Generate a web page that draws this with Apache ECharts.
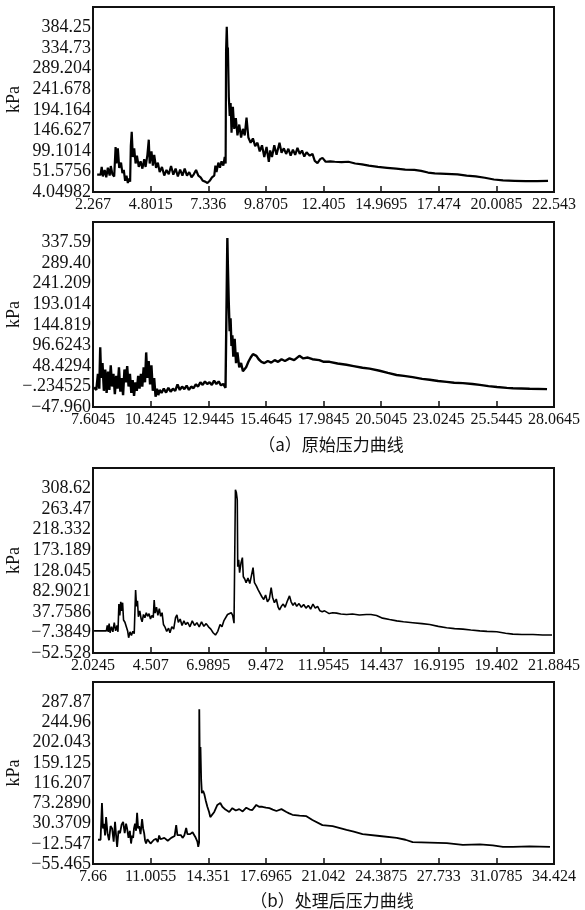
<!DOCTYPE html>
<html>
<head>
<meta charset="utf-8">
<script src="https://cdn.jsdelivr.net/npm/echarts@6/dist/echarts.min.js"></script>
<style>
  html, body { margin: 0; padding: 0; background: #fff; }
  #chart { width: 585px; height: 910px; }
</style>
</head>
<body>
<div id="chart"></div>
<script>
// (a) original pressure curves, (b) processed pressure curves  [time, kPa]
const rawCurve1 = [
  [2.45,44],[2.6,44],[2.65,62],[2.7,40],[2.78,55],[2.85,38],[2.92,60],[3.0,42],[3.05,64],[3.12,45],
  [3.2,40],[3.26,108],[3.3,70],[3.36,105],[3.42,60],[3.5,72],[3.56,48],[3.62,55],[3.68,30],[3.74,42],
  [3.8,25],[3.86,35],[3.9,28],[3.93,110],[3.97,143],[4.02,85],[4.08,105],[4.14,70],[4.2,88],[4.28,62],
  [4.36,75],[4.44,58],[4.52,80],[4.58,62],[4.66,90],[4.72,125],[4.76,70],[4.84,98],[4.9,65],[4.96,90],
  [5.04,60],[5.12,72],[5.2,50],[5.3,62],[5.4,42],[5.5,55],[5.6,45],[5.7,64],[5.8,44],[5.9,58],
  [6.0,40],[6.1,56],[6.2,42],[6.3,58],[6.4,42],[6.5,50],[6.6,38],[6.7,45],[6.8,55],[6.9,42],
  [7.0,38],[7.1,30],[7.2,28],[7.3,25],[7.4,30],[7.5,38],[7.6,42],[7.65,65],[7.7,50],[7.78,72],
  [7.85,60],[7.92,75],[8.0,65],[8.06,85],[8.1,70],[8.12,330],[8.15,386],[8.18,330],[8.2,338],[8.24,224],
  [8.28,180],[8.32,210],[8.36,141],[8.42,201],[8.48,150],[8.55,175],[8.62,135],[8.7,160],[8.78,130],[8.86,150],
  [8.94,135],[9.02,176],[9.1,130],[9.2,118],[9.3,128],[9.4,110],[9.5,118],[9.6,98],[9.7,112],[9.8,85],
  [9.9,108],[10.0,74],[10.06,100],[10.14,85],[10.24,112],[10.34,90],[10.47,118],[10.56,95],[10.66,105],[10.76,92],
  [10.86,104],[10.96,88],[11.06,102],[11.16,90],[11.26,106],[11.36,92],[11.46,100],[11.56,86],[11.66,96],[11.8,88],
  [11.92,92],[12.02,76],[12.14,71],[12.26,80],[12.36,83],[12.5,74],[12.7,75],[12.9,74],[13.2,73],[13.5,74],
  [13.8,70],[14.1,68],[14.4,65],[14.8,62],[15.2,60],[15.6,58],[16.0,56],[16.4,55],[16.7,53],[17.0,49],
  [17.3,47],[17.8,46],[18.3,45],[18.7,42],[19.1,40],[19.5,37],[19.9,33],[20.3,31],[20.8,30],[21.3,29],
  [21.8,29],[22.28,30]
];
const rawCurve2 = [
  [7.95,-2],[8.05,-8],[8.12,30],[8.18,-5],[8.22,92],[8.26,20],[8.32,55],[8.38,-10],[8.44,40],[8.5,-15],
  [8.56,35],[8.62,-8],[8.68,50],[8.74,0],[8.8,30],[8.86,-18],[8.92,25],[8.98,-5],[9.04,45],[9.1,-12],
  [9.16,20],[9.22,-20],[9.28,40],[9.34,10],[9.4,48],[9.46,0],[9.52,30],[9.58,-15],[9.64,15],[9.7,-22],
  [9.76,10],[9.82,-10],[9.88,25],[9.94,-5],[10.0,30],[10.06,0],[10.12,45],[10.18,10],[10.23,80],[10.28,20],
  [10.34,60],[10.4,5],[10.46,50],[10.52,-10],[10.58,20],[10.64,-24],[10.7,-5],[10.76,-20],[10.82,-8],[10.9,-15],
  [11.0,-5],[11.1,-14],[11.2,-3],[11.3,-12],[11.4,-5],[11.5,-10],[11.6,5],[11.7,-8],[11.8,0],[11.9,-6],
  [12.0,2],[12.1,-8],[12.2,0],[12.3,-4],[12.4,5],[12.5,0],[12.6,10],[12.7,4],[12.8,12],[12.9,6],
  [13.0,10],[13.1,4],[13.2,14],[13.3,6],[13.4,12],[13.5,3],[13.6,6],[13.7,-3],[13.76,-4],[13.78,348],
  [13.8,290],[13.84,200],[13.88,130],[13.92,160],[13.96,95],[14.0,120],[14.04,70],[14.1,112],[14.16,55],[14.22,80],
  [14.3,45],[14.38,55],[14.46,36],[14.52,34],[14.6,45],[14.7,58],[14.8,68],[14.9,76],[14.96,80],[15.05,72],
  [15.15,64],[15.27,58],[15.4,55],[15.55,60],[15.7,56],[15.85,62],[16.0,58],[16.15,64],[16.3,60],[16.5,66],
  [16.7,62],[16.93,72],[17.1,66],[17.3,68],[17.5,64],[17.8,62],[18.0,58],[18.25,58],[18.6,54],[18.99,51],
  [19.3,48],[19.69,44],[20.0,42],[20.44,37],[20.8,32],[21.18,27],[21.5,25],[21.88,22],[22.3,18],[22.63,16],
  [23.0,13],[23.37,11],[23.7,9],[24.08,8],[24.5,6],[24.82,4],[25.2,1],[25.57,-1],[26.0,-3],[26.27,-4],
  [27.0,-5],[27.76,-6]
];
const processedCurve1 = [
  [2.07,-4],[2.6,-4],[2.64,8],[2.68,-6],[2.72,12],[2.76,-8],[2.82,5],[2.88,-6],[2.94,14],[3.0,-4],
  [3.06,8],[3.1,-6],[3.14,55],[3.18,30],[3.22,60],[3.26,40],[3.3,58],[3.34,20],[3.4,15],[3.46,5],
  [3.52,-5],[3.56,-19],[3.62,-6],[3.68,-14],[3.74,-5],[3.8,-10],[3.84,-8],[3.86,86],[3.9,50],[3.94,62],
  [3.98,27],[4.04,40],[4.1,22],[4.14,16],[4.2,32],[4.26,25],[4.32,36],[4.38,28],[4.44,34],[4.5,22],
  [4.56,30],[4.62,25],[4.66,64],[4.7,35],[4.76,48],[4.82,30],[4.88,45],[4.94,28],[5.0,36],[5.06,10],
  [5.12,5],[5.2,-5],[5.28,2],[5.34,-8],[5.42,5],[5.5,0],[5.58,25],[5.64,31],[5.7,15],[5.78,22],
  [5.86,8],[5.94,18],[6.02,10],[6.1,15],[6.2,5],[6.3,18],[6.4,8],[6.5,14],[6.6,5],[6.7,16],
  [6.8,6],[6.9,12],[7.0,5],[7.1,0],[7.2,-8],[7.3,-13],[7.4,-5],[7.5,10],[7.58,5],[7.66,18],
  [7.74,22],[7.82,32],[7.9,28],[7.98,36],[8.04,30],[8.1,13],[8.14,15],[8.16,306],[8.2,300],[8.24,284],
  [8.26,137],[8.3,152],[8.34,124],[8.4,145],[8.46,157],[8.5,115],[8.56,110],[8.62,102],[8.7,112],[8.78,100],
  [8.86,104],[8.92,135],[8.98,102],[9.06,95],[9.14,86],[9.22,90],[9.3,71],[9.38,65],[9.46,75],[9.54,60],
  [9.62,66],[9.7,91],[9.76,70],[9.84,58],[9.92,66],[10.0,48],[10.06,42],[10.14,50],[10.22,55],[10.3,48],
  [10.4,62],[10.49,73],[10.56,60],[10.64,52],[10.72,58],[10.8,50],[10.9,56],[11.0,48],[11.1,54],[11.2,46],
  [11.3,52],[11.4,44],[11.5,55],[11.6,46],[11.7,50],[11.8,40],[11.9,38],[12.0,40],[12.08,36],[12.2,34],
  [12.35,36],[12.52,35],[12.7,33],[12.95,32],[13.2,33],[13.5,31],[13.8,32],[14.0,32],[14.24,30],[14.5,24],
  [14.8,21],[15.11,18],[15.4,16],[15.8,14],[16.2,12],[16.53,10],[16.9,6],[17.26,3],[17.6,1],[17.96,0],
  [18.3,-2],[18.69,-4],[19.0,-5],[19.42,-6],[19.8,-9],[20.11,-11],[20.5,-12],[20.98,-12],[21.4,-13],[21.8,-13]
];
const processedCurve2 = [
  [7.95,-4],[8.1,-4],[8.18,74],[8.24,20],[8.3,30],[8.36,5],[8.42,44],[8.5,10],[8.59,-5],[8.68,25],
  [8.77,20],[8.86,-8],[8.94,34],[9.0,5],[9.06,-19],[9.14,15],[9.23,10],[9.32,28],[9.41,34],[9.5,10],
  [9.58,30],[9.64,20],[9.72,0],[9.8,15],[9.87,-12],[9.93,5],[9.99,0],[10.04,20],[10.1,30],[10.16,15],
  [10.22,53],[10.28,20],[10.34,25],[10.42,8],[10.51,40],[10.57,20],[10.63,10],[10.68,-5],[10.74,-12],[10.82,-3],
  [10.92,-5],[11.0,-12],[11.09,-10],[11.2,-4],[11.33,-2],[11.42,-9],[11.5,5],[11.58,-3],[11.67,-6],[11.8,0],
  [11.91,-2],[12.0,-6],[12.08,-4],[12.2,0],[12.3,-3],[12.4,4],[12.49,27],[12.56,6],[12.66,2],[12.76,6],
  [12.86,0],[12.96,5],[13.07,21],[13.14,8],[13.22,4],[13.3,8],[13.36,5],[13.44,12],[13.54,10],[13.6,2],
  [13.65,0],[13.72,-8],[13.77,-19],[13.82,-10],[13.83,273],[13.86,150],[13.9,193],[13.94,123],[13.98,95],[14.05,100],
  [14.12,93],[14.2,80],[14.23,76],[14.3,66],[14.4,55],[14.47,44],[14.58,42],[14.7,55],[14.88,70],[15.05,74],
  [15.17,66],[15.35,60],[15.57,55],[15.75,63],[15.95,58],[16.15,61],[16.35,56],[16.56,64],[16.75,60],[16.91,59],
  [17.14,70],[17.3,66],[17.49,66],[17.7,64],[17.9,63],[18.1,60],[18.31,57],[18.6,61],[18.89,55],[19.05,52],
  [19.24,49],[19.65,47],[20.05,46],[20.4,38],[20.98,27],[21.57,25],[22.38,17],[22.8,13],[23.31,8],[24.3,4],
  [25.29,0],[25.8,-4],[26.22,-9],[27.21,-10],[28.2,-11],[29.13,-15],[30.12,-14],[30.87,-16],[31.46,-19],[32.04,-19],
  [33.0,-18],[34.19,-19]
];

// tick labels as printed in the figure (not always evenly stepped)
const xLabels1 = ['2.267','4.8015','7.336','9.8705','12.405','14.9695','17.474','20.0085','22.543'];
const yLabels1 = ['4.04982','51.5756','99.1014','146.627','194.164','241.678','289.204','334.73','384.25'];
const xLabels2 = ['7.6045','10.4245','12.9445','15.4645','17.9845','20.5045','23.0245','25.5445','28.0645'];
const yLabels2 = ['\u221247.960','\u2212.234525','48.4294','96.6243','144.819','193.014','241.209','289.40','337.59'];
const xLabels3 = ['2.0245','4.507','6.9895','9.472','11.9545','14.437','16.9195','19.402','21.8845'];
const yLabels3 = ['\u221252.528','\u22127.3849','37.7586','82.9021','128.045','173.189','218.332','263.47','308.62'];
const xLabels4 = ['7.66','11.0055','14.351','17.6965','21.042','24.3875','27.733','31.0785','34.424'];
const yLabels4 = ['\u221255.465','\u221212.547','30.3709','73.2890','116.207','159.125','202.043','244.96','287.87'];

// axis start and step of each panel
const xMins = [2.267, 7.9045, 2.0245, 7.66];
const xSteps = [2.5345, 2.52, 2.4825, 3.3455];
const yMins = [4.04982, -47.96, -52.528, -55.465];
const ySteps = [47.5258, 48.195, 45.1435, 42.918];

const captions = ['\uff08a\uff09原始压力曲线', '\uff08b\uff09处理后压力曲线'];

const curves = [rawCurve1, rawCurve2, processedCurve1, processedCurve2];
const xLabelSets = [xLabels1, xLabels2, xLabels3, xLabels4];
const yLabelSets = [yLabels1, yLabels2, yLabels3, yLabels4];

const serif = "'Liberation Serif', 'DejaVu Serif', serif";
const cjk = "'Noto Sans CJK SC', sans-serif";
const gridTops = [7, 222, 468, 682];
const gridHeights = [185, 185, 185, 182];
const lineWidths = [2.2, 2.4, 1.6, 1.8];

const chart = echarts.init(document.getElementById('chart'));

const grids = [], xAxes = [], yAxes = [], series = [];
curves.forEach((curve, i) => {
  grids.push({
    left: 93, right: 31, top: gridTops[i], height: gridHeights[i],
    containLabel: false, outerBoundsMode: 'none',
    show: true, borderColor: '#111', borderWidth: 2, backgroundColor: 'transparent'
  });
  xAxes.push({
    type: 'value', gridIndex: i, position: 'bottom',
    min: xMins[i], max: xMins[i] + 8 * xSteps[i], interval: xSteps[i],
    axisLine: { show: true, onZero: false, lineStyle: { color: '#111', width: 2 } },
    axisTick: { show: true, inside: true, length: 6, lineStyle: { color: '#111', width: 1.5 } },
    splitLine: { show: false },
    axisLabel: {
      color: '#111', fontFamily: serif, fontSize: 16, margin: 5,
      formatter: v => xLabelSets[i][Math.round((v - xMins[i]) / xSteps[i])] || ''
    }
  });
  yAxes.push({
    type: 'value', gridIndex: i,
    min: yMins[i], max: yMins[i] + 9 * ySteps[i], interval: ySteps[i],
    name: 'kPa', nameLocation: 'middle', nameGap: 70, nameRotate: 90, nameMoveOverlap: false,
    nameTextStyle: { color: '#111', fontFamily: serif, fontSize: 18 },
    axisLine: { show: true, onZero: false, lineStyle: { color: '#111', width: 2 } },
    axisTick: { show: false },
    splitLine: { show: false },
    axisLabel: {
      color: '#111', fontFamily: serif, fontSize: 18, margin: 2,
      formatter: v => yLabelSets[i][Math.round((v - yMins[i]) / ySteps[i])] || ''
    }
  });
  series.push({
    type: 'line', xAxisIndex: i, yAxisIndex: i,
    data: curve, showSymbol: false, symbol: 'none',
    lineStyle: { color: '#000', width: lineWidths[i] },
    silent: true
  });
});

chart.setOption({
  animation: false,
  backgroundColor: '#fff',
  title: [
    { text: captions[0], left: 326, top: 431, textAlign: 'center',
      textStyle: { color: '#111', fontFamily: cjk, fontSize: 17, fontWeight: 'normal' } },
    { text: captions[1], left: 327, top: 887, textAlign: 'center',
      textStyle: { color: '#111', fontFamily: cjk, fontSize: 17, fontWeight: 'normal' } }
  ],
  grid: grids,
  xAxis: xAxes,
  yAxis: yAxes,
  series: series
});
</script>
</body>
</html>
